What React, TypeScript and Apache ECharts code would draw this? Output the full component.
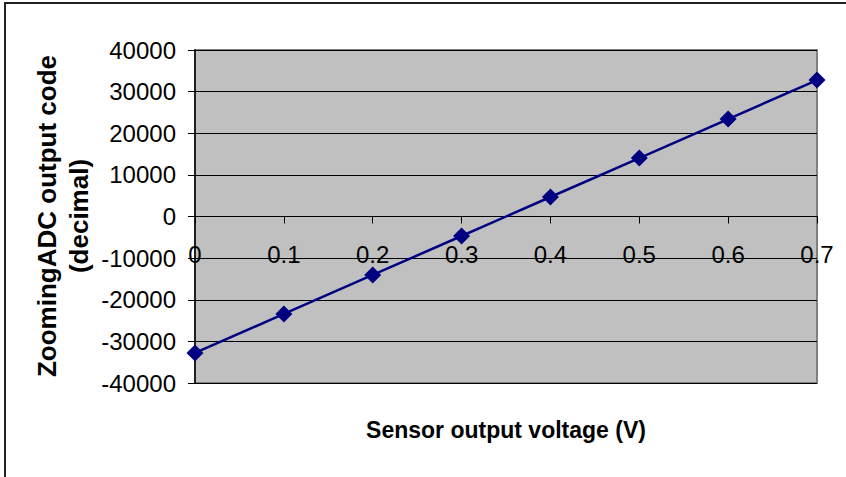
import React, { useEffect, useRef } from "react";
import * as echarts from "echarts";

const voltages = [0, 0.1, 0.2, 0.3, 0.4, 0.5, 0.6, 0.7];
const outputCodes = [-32768, -23405, -14043, -4681, 4681, 14043, 23405, 32767];
const xTitle = "Sensor output voltage (V)";
const yTitle = "ZoomingADC output code\n(decimal)";

const FONT = "Liberation Sans, Arial, sans-serif";
const Y_MIN = -40000;
const Y_MAX = 40000;
const GRID_TOP = 50;
const GRID_BOTTOM = 94;
const HEIGHT = 477;

export default function App() {
  const ref = useRef<HTMLDivElement>(null);
  useEffect(() => {
    if (!ref.current) return;
    const chart = echarts.init(ref.current, null, { renderer: "svg" });
    const plotH = HEIGHT - GRID_TOP - GRID_BOTTOM;
    // move the x axis up to the y = 0 line
    const zeroOffset = -(plotH * (0 - Y_MIN)) / (Y_MAX - Y_MIN);
    chart.setOption({
      animation: false,
      backgroundColor: "#ffffff",
      grid: {
        left: 195,
        right: 29,
        top: GRID_TOP,
        bottom: GRID_BOTTOM,
        show: true,
        backgroundColor: "#C0C0C0",
        borderColor: "#808080",
        borderWidth: 2,
      },
      xAxis: {
        type: "value",
        min: 0,
        max: 0.7,
        interval: 0.1,
        offset: zeroOffset,
        axisLine: { onZero: false, lineStyle: { color: "#000", width: 1 } },
        axisTick: { show: true, inside: false, length: 7, lineStyle: { color: "#000" } },
        axisLabel: {
          margin: 26,
          fontFamily: FONT,
          fontSize: 24,
          color: "#000",
          formatter: (v: number) => String(Math.round(v * 10) / 10),
        },
        splitLine: { show: false },
      },
      yAxis: {
        type: "value",
        min: Y_MIN,
        max: Y_MAX,
        interval: 10000,
        axisLine: { show: true, onZero: false, lineStyle: { color: "#000", width: 1.5 } },
        axisTick: { show: true, inside: false, length: 7, lineStyle: { color: "#000" } },
        axisLabel: {
          margin: 19,
          fontFamily: FONT,
          fontSize: 24,
          color: "#000",
          formatter: (v: number) => String(v),
        },
        splitLine: { show: true, lineStyle: { color: "#000", width: 1 } },
      },
      series: [
        {
          type: "line",
          data: voltages.map((v, i) => [v, outputCodes[i]]),
          lineStyle: { color: "#000080", width: 2.5 },
          itemStyle: { color: "#000080" },
          symbol: "diamond",
          symbolSize: 17,
          clip: false,
          z: 5,
        },
      ],
      graphic: [
        {
          type: "rect",
          shape: { x: 5, y: 3, width: 1000, height: 1000 },
          style: { fill: "none", stroke: "#222", lineWidth: 2 },
          silent: true,
        },
        {
          type: "text",
          x: 506,
          y: 430,
          style: {
            text: xTitle,
            fontFamily: FONT,
            fontSize: 23,
            fontWeight: "bold",
            fill: "#000",
            textAlign: "center",
            textVerticalAlign: "middle",
          },
        },
        {
          type: "text",
          x: 63,
          y: 216,
          rotation: Math.PI / 2,
          style: {
            text: yTitle,
            fontFamily: FONT,
            fontSize: 26,
            fontWeight: "bold",
            lineHeight: 32,
            fill: "#000",
            textAlign: "center",
            textVerticalAlign: "middle",
          },
        },
      ],
    });
    return () => chart.dispose();
  }, []);
  return (
    <div
      ref={ref}
      style={{ position: "fixed", left: 0, top: 0, width: 846, height: 477 }}
    />
  );
}
